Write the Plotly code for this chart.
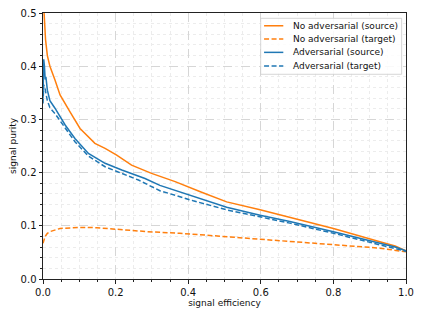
import plotly.graph_objects as go

# No adversarial (source)
nas_x = [0.003, 0.007, 0.012, 0.019, 0.033, 0.047, 0.074, 0.102, 0.143, 0.171, 0.203, 0.244, 0.299, 0.364, 0.437, 0.506, 0.598, 0.68, 0.8, 0.928, 0.97, 1.0]
nas_y = [0.5, 0.45, 0.42, 0.40, 0.374, 0.346, 0.3145, 0.283, 0.255, 0.2457, 0.233, 0.214, 0.1986, 0.183, 0.163, 0.145, 0.130, 0.116, 0.095, 0.070, 0.062, 0.053]

# No adversarial (target)
nat_x = [0.0, 0.003, 0.006, 0.012, 0.019, 0.047, 0.102, 0.148, 0.203, 0.286, 0.377, 0.506, 0.653, 0.8, 0.928, 1.0]
nat_y = [0.067, 0.075, 0.080, 0.086, 0.089, 0.095, 0.097, 0.0965, 0.093, 0.089, 0.086, 0.0795, 0.072, 0.064, 0.058, 0.051]

# Adversarial (source)
as_x = [0.0, 0.001, 0.002, 0.004, 0.006, 0.008, 0.012, 0.019, 0.033, 0.061, 0.088, 0.125, 0.171, 0.217, 0.281, 0.322, 0.391, 0.506, 0.598, 0.68, 0.8, 0.928, 0.97, 1.0]
as_y = [0.34, 0.36, 0.413, 0.40, 0.375, 0.38, 0.355, 0.335, 0.321, 0.2895, 0.264, 0.236, 0.2175, 0.205, 0.189, 0.176, 0.161, 0.135, 0.120, 0.108, 0.089, 0.067, 0.060, 0.053]

# Adversarial (target)
at_x = [0.0, 0.002, 0.005, 0.008, 0.012, 0.019, 0.033, 0.088, 0.125, 0.171, 0.263, 0.322, 0.355, 0.414, 0.506, 0.598, 0.68, 0.8, 0.928, 0.97, 1.0]
at_y = [0.33, 0.365, 0.36, 0.345, 0.335, 0.322, 0.311, 0.258, 0.231, 0.211, 0.186, 0.166, 0.159, 0.147, 0.130, 0.117, 0.105, 0.086, 0.064, 0.058, 0.052]

series_names = ["No adversarial (source)", "No adversarial (target)", "Adversarial (source)", "Adversarial (target)"]

x_ticks = [0.0, 0.2, 0.4, 0.6, 0.8, 1.0]
y_ticks = [0.0, 0.1, 0.2, 0.3, 0.4, 0.5]

ORANGE = "#ff7f0e"
BLUE = "#1f77b4"
DASH = "5px,2.5px"
FONT = "DejaVu Sans"

styles = [
    dict(color=ORANGE, width=1.5),
    dict(color=ORANGE, width=1.5, dash=DASH),
    dict(color=BLUE, width=1.5),
    dict(color=BLUE, width=1.5, dash=DASH),
]
data = [(nas_x, nas_y), (nat_x, nat_y), (as_x, as_y), (at_x, at_y)]

fig = go.Figure()
for (xs, ys), name, st in zip(data, series_names, styles):
    fig.add_trace(go.Scatter(x=xs, y=ys, mode="lines", name=name, line=st, showlegend=False))

axis_common = dict(
    showline=True, linecolor="#222", linewidth=1, mirror=True,
    ticks="outside", ticklen=3.5, tickwidth=0.8, tickcolor="#222",
    showgrid=True, gridcolor="#d6d6d6", griddash="dash", gridwidth=0.8,
    zeroline=False, automargin=False, ticklabeloverflow="allow",
    tickfont=dict(family=FONT, size=10, color="#111"),
)

fig.update_xaxes(range=[0, 1], tickvals=x_ticks, ticktext=[f"{v:.1f}" for v in x_ticks],
                 title=dict(text="signal efficiency", font=dict(family=FONT, size=9, color="#111"), standoff=3),
                 minor=dict(dtick=0.05, tick0=0, ticks="outside", ticklen=2, tickcolor="#222",
                            showgrid=True, gridcolor="#ececec", griddash="dot", gridwidth=0.6),
                 **axis_common)
fig.update_yaxes(range=[0, 0.5], tickvals=y_ticks, ticktext=[f"{v:.1f}" for v in y_ticks],
                 title=dict(text="signal purity", font=dict(family=FONT, size=9, color="#111"), standoff=4),
                 minor=dict(dtick=0.02, tick0=0, ticks="outside", ticklen=2, tickcolor="#222",
                            showgrid=True, gridcolor="#ececec", griddash="dot", gridwidth=0.6),
                 **axis_common)

# Custom legend (matplotlib-like compact layout), in axis-domain coordinates
L_X0, L_X1, L_Y0, L_Y1 = 0.5997, 0.988, 0.7696, 0.980
row_y = [0.952, 0.902, 0.852, 0.801]
sym_x0, sym_x1, text_x = 0.609, 0.662, 0.682

shapes = [dict(type="rect", xref="x domain", yref="y domain", x0=L_X0, x1=L_X1, y0=L_Y0, y1=L_Y1,
               fillcolor="rgba(255,255,255,0.85)", line=dict(color="#cccccc", width=0.8), layer="above")]
annotations = []
for name, st, ry in zip(series_names, styles, row_y):
    shapes.append(dict(type="line", xref="x domain", yref="y domain", x0=sym_x0, x1=sym_x1, y0=ry, y1=ry,
                       line=st, layer="above"))
    annotations.append(dict(text=name, xref="x domain", yref="y domain", x=text_x, y=ry,
                            xanchor="left", yanchor="middle", showarrow=False,
                            font=dict(family=FONT, size=9, color="#111")))

# The page body has an 8px default margin, so the figure is 8px smaller and margins shifted
fig.update_layout(
    width=415, height=310,
    margin=dict(l=35, r=17, t=5, b=39),
    paper_bgcolor="white", plot_bgcolor="white",
    font=dict(family=FONT, size=9, color="#111"),
    showlegend=False,
    shapes=shapes, annotations=annotations,
)

fig.write_html("out.html")
